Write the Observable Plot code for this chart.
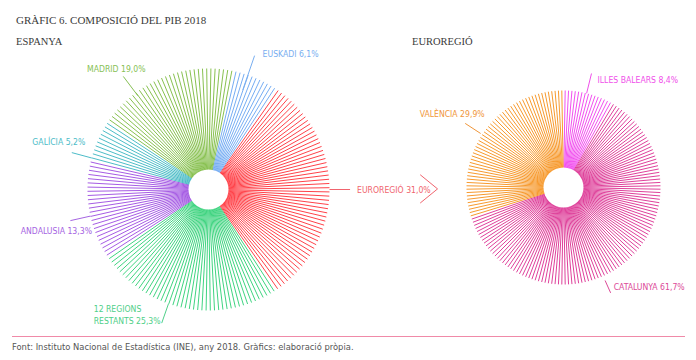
<!DOCTYPE html>
<html><head><meta charset="utf-8">
<script src="https://cdn.jsdelivr.net/npm/d3@7"></script>
<script src="https://cdn.jsdelivr.net/npm/@observablehq/plot@0.6"></script>
<style>
body{margin:0;background:#fff;width:696px;height:360px;position:relative;overflow:hidden;}
.serif{font-family:"Liberation Serif","DejaVu Serif",serif;color:#3a3a3a;position:absolute;white-space:nowrap;line-height:1;z-index:2;}
#title{left:16px;top:15px;font-size:11px;}
#sub1{left:16px;top:37px;font-size:10.5px;}
#sub2{left:412px;top:37px;font-size:10.5px;}
#chart{position:absolute;left:0;top:30px;z-index:1;}
#rule{position:absolute;left:12px;top:336px;width:673px;height:1px;background:#f08aa8;}
#source{position:absolute;left:12px;top:342px;font-family:"Liberation Sans Narrow","DejaVu Sans Condensed",Roboto,sans-serif;font-size:9.3px;color:#555;white-space:nowrap;line-height:1;}
</style>
</head><body>
<div class="serif" id="title">GRÀFIC 6. COMPOSICIÓ DEL PIB 2018</div>
<div class="serif" id="sub1">ESPANYA</div>
<div class="serif" id="sub2">EUROREGIÓ</div>
<div id="chart"></div>
<div id="rule"></div>
<div id="source">Font: Instituto Nacional de Estadística (INE), any 2018. Gràfics: elaboració pròpia.</div>
<script>
// ---- data ----
const leftCats   = ["EUROREGIÓ", "12 REGIONS\nRESTANTS", "ANDALUSIA", "GALÍCIA", "MADRID", "EUSKADI"];
const leftShares = [31.0, 25.3, 13.3, 5.2, 19.0, 6.1];
const leftColors = ["#ff4249", "#3fd480", "#a65ce4", "#4dbdc7", "#88c150", "#76adf3"];
const leftLabelColors = ["#f0646e", "#4fcf88", "#a564e2", "#4cbcc8", "#87bf55", "#78aef0"];

const rightCats   = ["ILLES BALEARS", "CATALUNYA", "VALÈNCIA"];
const rightShares = [8.4, 61.7, 29.9];
const rightColors = ["#f250ef", "#df419b", "#f79a2e"];
const rightLabelColors = ["#f050ea", "#dc4a98", "#f0963a"];

// ---- layout (unit = left pie radius) ----
const U = 121; // px per unit
const W = 696, H = 302, CY = 159;
const leftPie  = {cx: 0, cy: 0, r: 1, n: 180};
const rightPie = {cx: 355 / U, cy: 2 / U, r: 97 / U, n: 180};
leftPie.start  = 90 - leftShares[0] / d3.sum(leftShares) * 180;
rightPie.start = 0;

// label leader: angle (deg, clockwise from top), r1, r2 (fraction of pie radius), text offset
const leftLabelLayout = [
  {a: 90,     r1: 1.0,  r2: 1.17, dx: 7,   dy: 0,   anchor: "start"},
  {a: -160.7, r1: 1.0,  r2: 1.17, dx: -68, dy: -9,  anchor: "start"},
  {a: -102.7, r1: 1.0,  r2: 1.17, dx: -14, dy: 10,  anchor: "middle"},
  {a: -74.9,  r1: 1.0,  r2: 1.17, dx: -13, dy: -11, anchor: "middle"},
  {a: -37,    r1: 0.97, r2: 1.17, dx: -7,  dy: -8,  anchor: "middle"},
  {a: 19,     r1: 0.87, r2: 1.17, dx: 8,   dy: -3,  anchor: "start"}
];
const rightLabelLayout = [
  {a: 13.8,  r1: 1.0,  r2: 1.21, dx: 6,   dy: 6,   anchor: "start"},
  {a: 155.9, r1: 1.05, r2: 1.19, dx: 3,   dy: -7,  anchor: "start"},
  {a: -56.9, r1: 1.02, r2: 1.21, dx: -13, dy: -10, anchor: "middle"}
];

const rad = d => d * Math.PI / 180;
const px = (pie, a, r) => pie.cx + pie.r * r * Math.sin(rad(a));
const py = (pie, a, r) => pie.cy + pie.r * r * Math.cos(rad(a));
const fmt = v => v.toFixed(1).replace(".", ",") + "%";

function spokes(pie, cats, shares) {
  const total = d3.sum(shares);
  const cum = d3.cumsum(shares);
  return d3.range(pie.n).map(i => {
    const f = (i + 0.5) / pie.n * total;
    let k = cum.findIndex(c => f <= c);
    if (k < 0) k = cats.length - 1;
    const a = pie.start + (i + 0.5) / pie.n * 360;
    return {x1: pie.cx, y1: pie.cy, x2: px(pie, a, 1), y2: py(pie, a, 1), cat: cats[k]};
  });
}
function labels(pie, cats, shares, layout, tcolors) {
  return cats.map((c, i) => {
    const L = layout[i];
    return {
      cat: c, text: c + " " + fmt(shares[i]), tcolor: tcolors[i],
      x1: px(pie, L.a, L.r1), y1: py(pie, L.a, L.r1),
      x2: px(pie, L.a, L.r2), y2: py(pie, L.a, L.r2),
      dx: L.dx, dy: L.dy, anchor: L.anchor
    };
  });
}

const spk = [...spokes(leftPie, leftCats, leftShares), ...spokes(rightPie, rightCats, rightShares)];
const lab = [...labels(leftPie, leftCats, leftShares, leftLabelLayout, leftLabelColors),
             ...labels(rightPie, rightCats, rightShares, rightLabelLayout, rightLabelColors)];
const centers = [leftPie, rightPie];

// arrow chevron after EUROREGIÓ label
const chevron = [{x: 1.752, y: 0.12}, {x: 1.893, y: 0.005}, {x: 1.752, y: -0.11}];

const font = '"Liberation Sans Narrow","DejaVu Sans Condensed",Roboto,sans-serif';

const chart = Plot.plot({
  width: W, height: H,
  marginTop: 0, marginRight: 0, marginBottom: 0, marginLeft: 0,
  x: {domain: [-208 / U, (W - 208) / U], axis: null},
  y: {domain: [-(H - CY) / U, CY / U], axis: null},
  color: {domain: [...leftCats, ...rightCats], range: [...leftColors, ...rightColors]},
  style: {background: "transparent"},
  marks: [
    Plot.link(spk, {x1: "x1", y1: "y1", x2: "x2", y2: "y2", stroke: "cat", strokeWidth: 1}),
    Plot.dot(centers, {x: "cx", y: "cy", r: 20, fill: "white", stroke: "none"}),
    Plot.link(lab, {x1: "x1", y1: "y1", x2: "x2", y2: "y2", stroke: "tcolor", strokeWidth: 1}),
    ...lab.map(d => Plot.text([d], {
      x: "x2", y: "y2", text: "text", fill: d.tcolor,
      dx: d.dx, dy: d.dy, textAnchor: d.anchor,
      fontSize: 8.6, fontFamily: font, lineHeight: 1.4
    })),
    Plot.line(chevron, {x: "x", y: "y", stroke: "#f0646e", strokeWidth: 1})
  ]
});
document.getElementById("chart").appendChild(chart);
</script>
</body></html>
